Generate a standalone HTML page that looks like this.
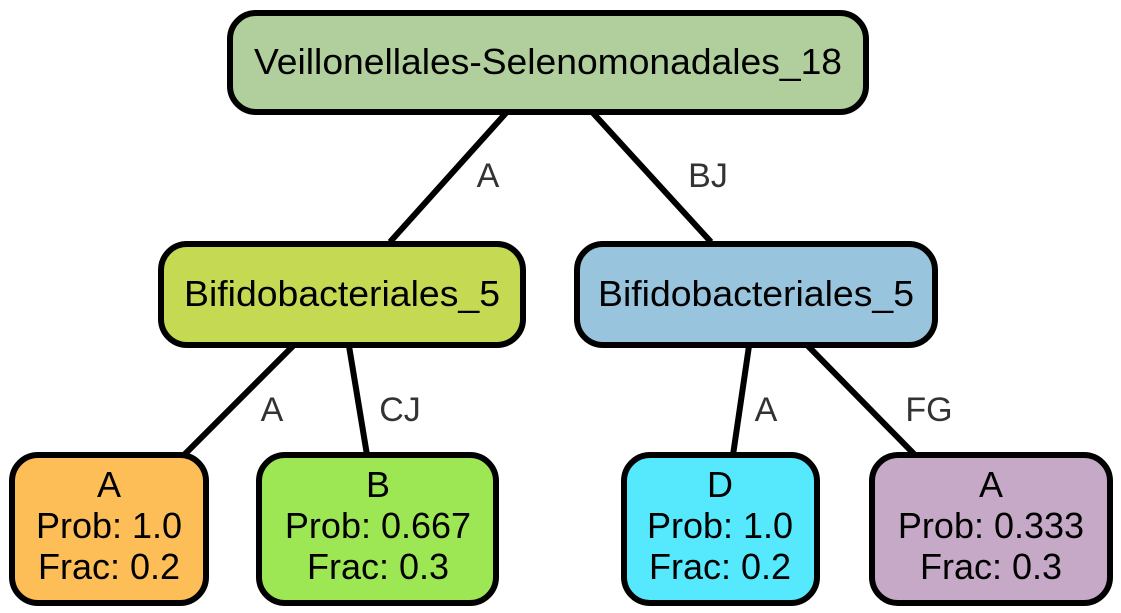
<!DOCTYPE html>
<html><head><meta charset="utf-8"><style>
html,body{margin:0;padding:0;background:#fff;}
svg{display:block;font-family:"Liberation Sans",Arial,sans-serif;}
</style></head><body>
<svg width="1121" height="613" viewBox="0 0 1121 613">
<g stroke="#000" stroke-width="6" fill="none">
<line x1="506" y1="113" x2="390" y2="242"/>
<line x1="593" y1="113" x2="711" y2="242"/>
<line x1="293" y1="346" x2="184" y2="455"/>
<line x1="349" y1="346" x2="367" y2="455"/>
<line x1="749" y1="346" x2="733" y2="455"/>
<line x1="808" y1="346" x2="915" y2="455"/>
</g>
<g font-size="34" fill="#333" text-anchor="middle">
<text x="488" y="187">A</text>
<text x="708" y="187">BJ</text>
<text x="272" y="421">A</text>
<text x="400" y="421">CJ</text>
<text x="766" y="421">A</text>
<text x="929" y="421">FG</text>
</g>
<g stroke="#000" stroke-width="6">
<rect x="230" y="13" width="636" height="99" rx="26" fill="#b0cf9c"/>
<rect x="161" y="244" width="362" height="101" rx="26" fill="#c5d953"/>
<rect x="577" y="244" width="358" height="101" rx="26" fill="#98c4de"/>
<rect x="12" y="455" width="194" height="148" rx="26" fill="#fdbe57"/>
<rect x="259" y="455" width="237" height="148" rx="26" fill="#9de755"/>
<rect x="624" y="455" width="193" height="148" rx="26" fill="#56e9fd"/>
<rect x="872" y="455" width="238" height="148" rx="26" fill="#c5a9c6"/>
</g>
<g font-size="36" fill="#000" text-anchor="middle">
<text x="548" y="74" textLength="588" lengthAdjust="spacingAndGlyphs">Veillonellales-Selenomonadales_18</text>
<text x="342" y="306" textLength="316" lengthAdjust="spacingAndGlyphs">Bifidobacteriales_5</text>
<text x="756" y="306" textLength="316" lengthAdjust="spacingAndGlyphs">Bifidobacteriales_5</text>
<text x="109" y="497">A</text>
<text x="109" y="538">Prob: 1.0</text>
<text x="109" y="579">Frac: 0.2</text>
<text x="378" y="497">B</text>
<text x="378" y="538">Prob: 0.667</text>
<text x="378" y="579">Frac: 0.3</text>
<text x="720" y="497">D</text>
<text x="720" y="538">Prob: 1.0</text>
<text x="720" y="579">Frac: 0.2</text>
<text x="991" y="497">A</text>
<text x="991" y="538">Prob: 0.333</text>
<text x="991" y="579">Frac: 0.3</text>
</g>
</svg>
</body></html>
